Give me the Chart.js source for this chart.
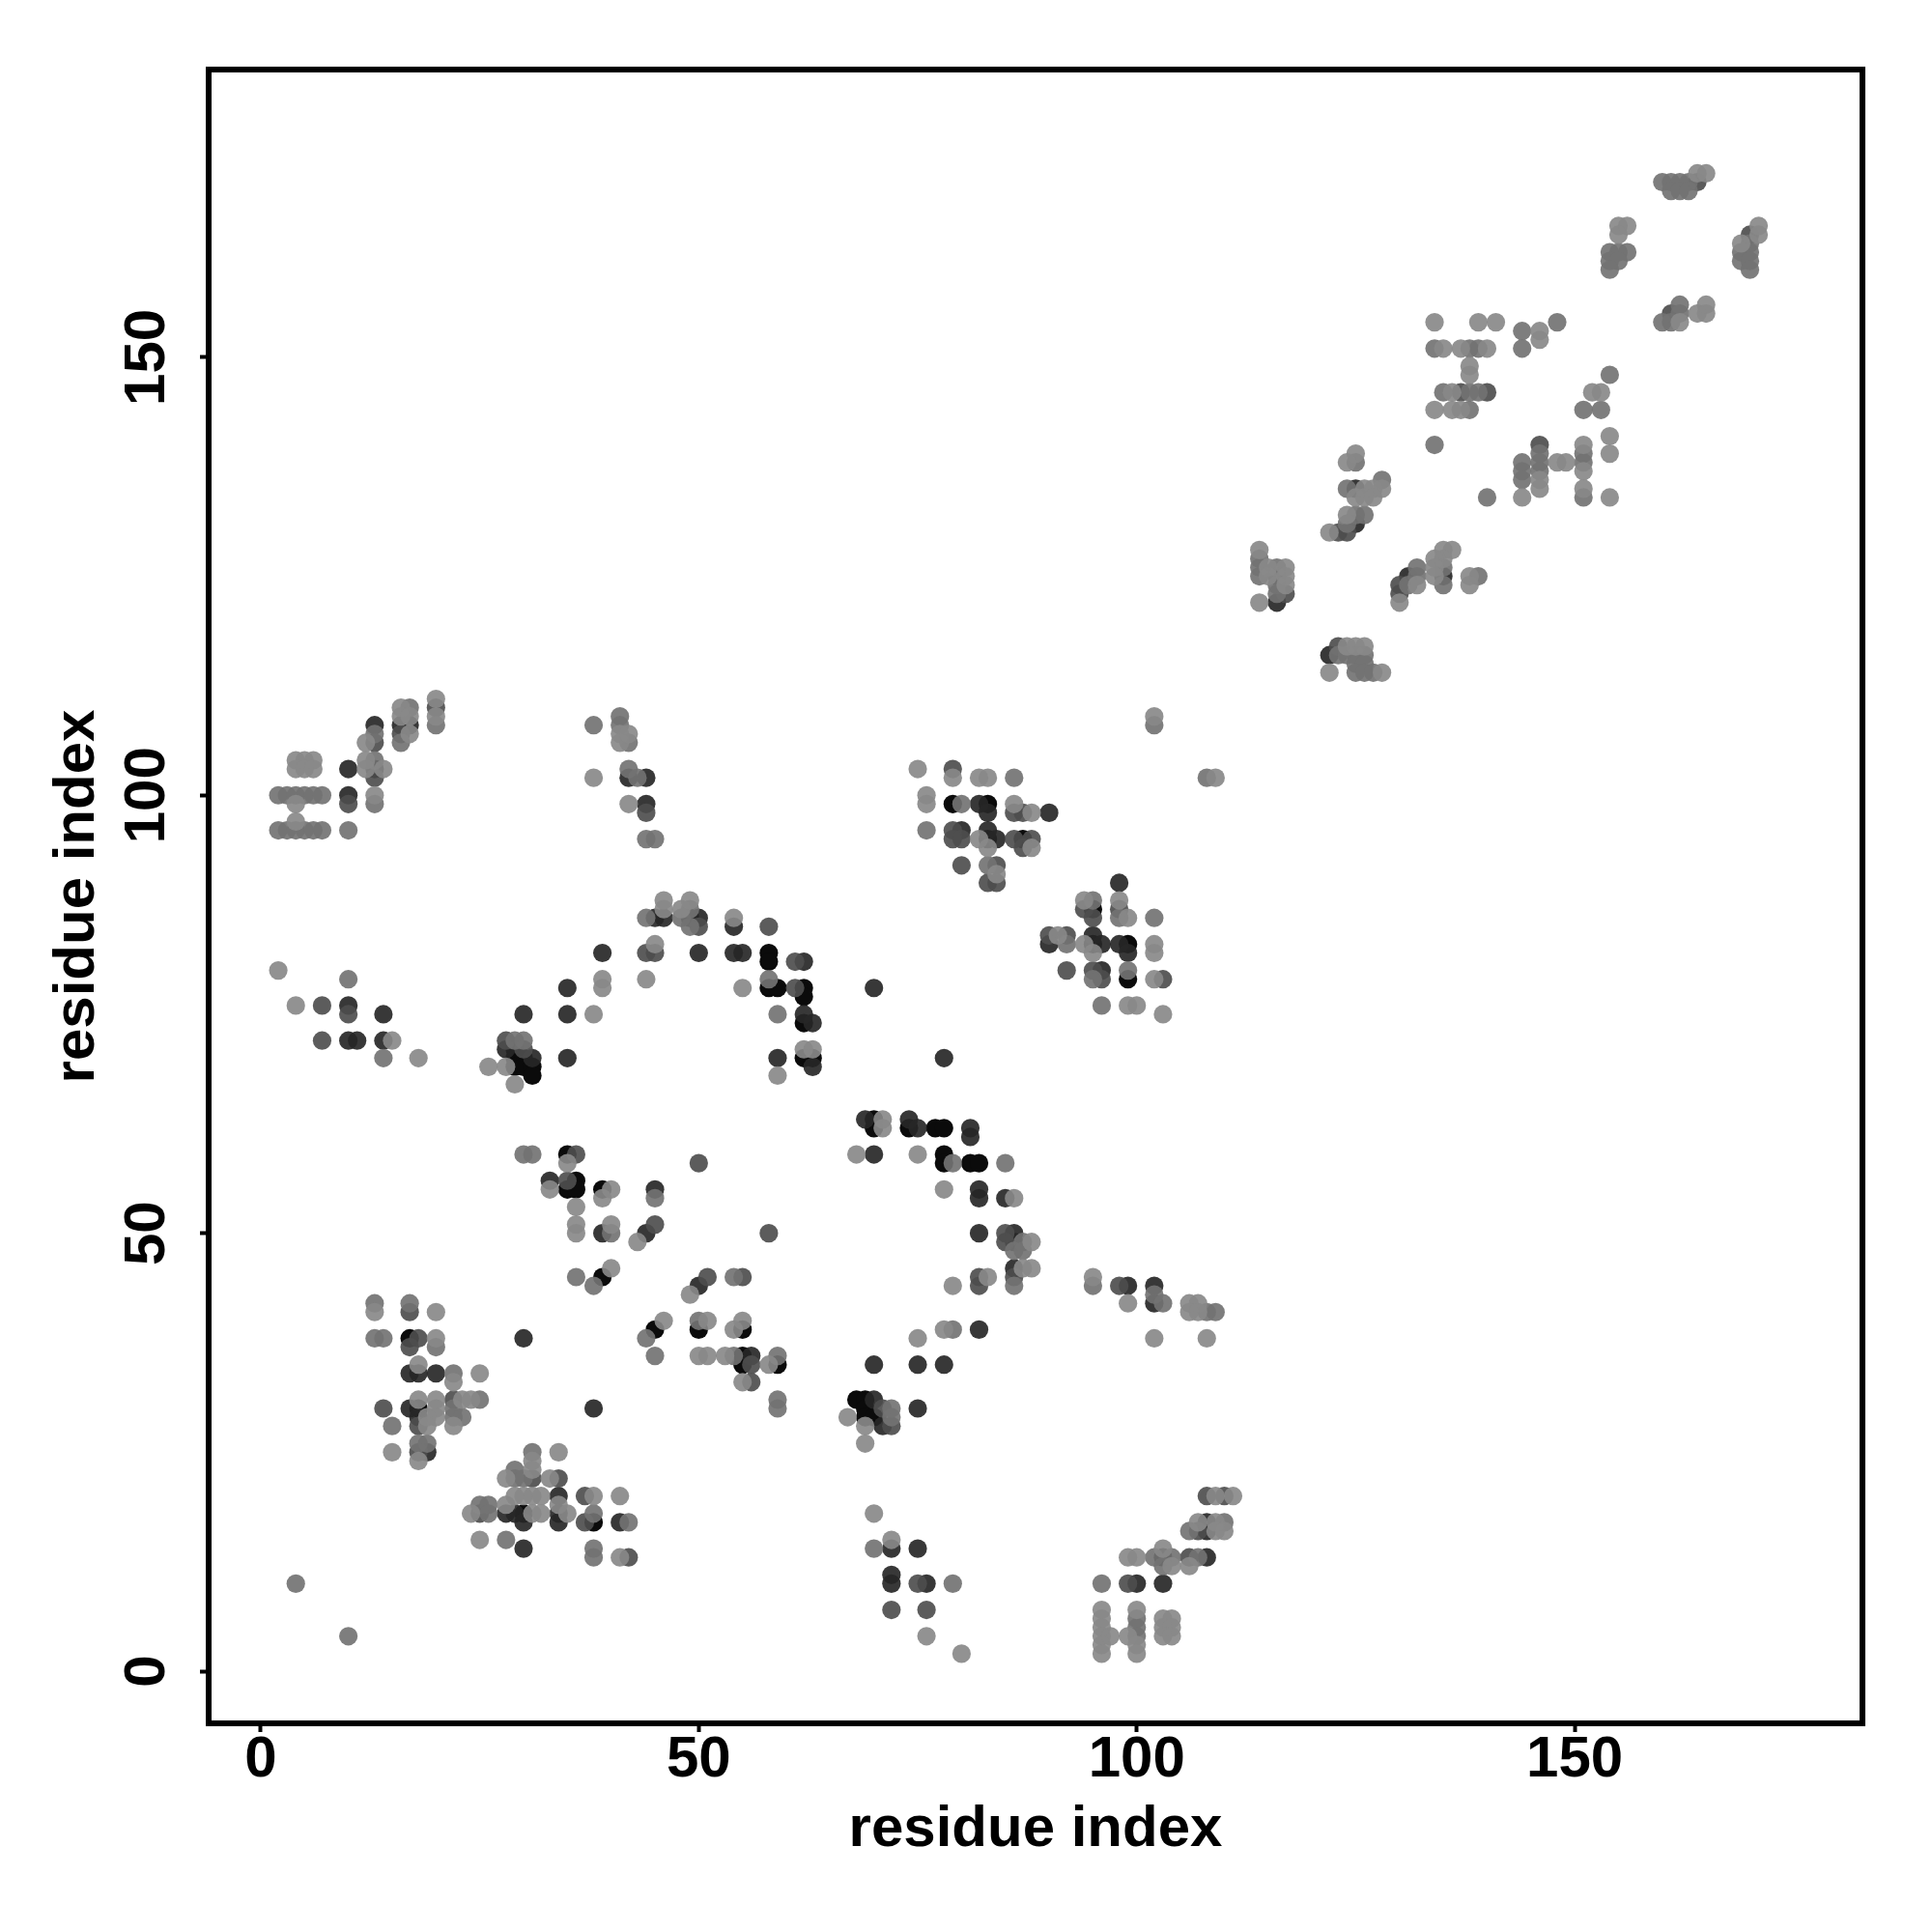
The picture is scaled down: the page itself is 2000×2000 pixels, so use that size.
<!DOCTYPE html>
<html>
<head>
<meta charset="utf-8">
<title>residue contacts</title>
<script src="https://cdn.jsdelivr.net/npm/chart.js@4"></script>
<style>
html, body { margin: 0; padding: 0; background: #fff; }
canvas { display: block; }
</style>
</head>
<body>
<canvas id="contactChart" width="2000" height="2000"></canvas>
<script>
// residue pairs [x, y], one list per grey level
const lightPoints = [[2,80],[4,76],[18,70],[15,72],[26,69],[28,69],[29,67],[38,75],[39,79],[39,78],[44,79],[45,83],[46,88],[46,87],[48,87],[49,88],[54,86],[55,78],[59,68],[62,71],[63,71],
  [4,97],[4,99],[4,104],[5,104],[6,104],[4,103],[5,103],[6,103],[13,100],[12,106],[12,104],[12,103],[14,103],[16,110],[16,109],[17,109],[17,107],[20,111],[20,109],[38,102],[41,107],[41,106],[42,107],[42,99],
  [75,103],[79,102],[82,102],[83,102],[76,100],[76,99],[86,99],[88,98],[82,95],[83,94],[88,94],[84,91],[94,88],[98,88],[99,86],[91,84],[94,83],[95,82],[102,83],[102,82],[102,79],[99,76],[100,76],[103,75],[109,102],[102,109],
  [13,41],[20,41],[20,38],[18,35],[22,33],[25,34],[18,31],[20,31],[20,30],[23,31],[24,31],[19,29],[19,28],[20,29],[22,28],[15,25],[18,24],[34,25],[31,24],[31,23],[28,22],[33,22],[29,20],[30,20],[31,20],[32,20],[34,19],[38,20],[41,20],[28,19],[24,18],[31,18],[32,18],[35,18],[25,15],[41,13],
  [40,46],[46,40],[49,43],[51,40],[50,36],[51,36],[53,36],[55,33],[54,39],[55,40],[58,35],[43,49],[36,53],[36,51],[36,50],[33,55],[35,58],[39,54],[40,55],[40,51],[68,59],[71,63],[71,62],[75,59],[78,55],[86,54],[88,49],[87,46],[88,46],[83,45],[79,44],[78,39],[75,38],[99,42],[106,42],[107,42],[106,41],[107,41],[102,38],[108,38],[95,45],[67,29],[69,28],[69,26],[70,18],[72,15],[76,4],[80,2],
  [96,7],[96,6],[96,5],[96,4],[96,3],[96,2],[97,4],[99,4],[100,7],[100,3],[100,2],[103,6],[104,6],[103,5],[104,5],[103,4],[104,4],[109,20],[111,20],[107,17],[109,17],[109,16],[110,16],[99,13],[100,13],[103,14],[104,12],[106,12],
  [125,139],[124,138],[126,135],[127,135],[128,135],[125,134],[126,134],[127,134],[124,132],[122,130],[114,128],[115,126],[115,125],[117,126],[117,125],[117,124],[114,122],[136,128],[135,128],[134,127],[135,127],[134,126],[134,125],[132,124],[130,122],[138,125],[138,124],[124,117],[125,117],[126,117],[122,114],[128,114],
  [134,154],[139,154],[141,154],[146,153],[146,152],[135,151],[137,151],[140,151],[138,149],[138,148],[136,146],[134,144],[136,144],[137,144],[152,146],[153,146],[154,141],[154,139],[144,134],[146,136],[146,135],[148,138],[149,138],[151,140],[151,137],[151,135],[154,134],[164,171],[165,171],[169,163],[171,165],[171,164],[162,154],[165,156],[164,155],[165,155],[155,165],[156,165],[155,164]];

const midPoints = [[14,70],[10,79],[44,86],[48,86],[49,85],[49,87],[29,72],[30,72],[58,79],[59,75],[10,96],[2,96],[3,96],[4,96],[5,96],[6,96],[7,96],[2,100],[3,100],[4,100],[5,100],[6,100],[7,100],[13,99],[13,107],[13,104],[16,106],[17,110],[20,108],[38,108],[41,109],[41,108],[42,106],[42,103],[43,102],[44,95],[45,95],
  [86,102],[76,96],[80,99],[83,92],[98,86],[95,79],[99,80],[96,76],[102,86],[92,83],[108,102],[102,108],[95,88],
  [17,42],[13,42],[13,38],[14,38],[20,37],[22,34],[25,31],[22,30],[22,29],[23,29],[15,28],[18,26],[19,26],[31,25],[29,23],[29,22],[30,22],[25,19],[26,19],[26,18],[38,18],[42,17],[28,15],[38,14],[38,13],[4,10],[10,4],
  [36,45],[38,44],[44,38],[45,36],[50,40],[54,45],[54,36],[59,36],[59,31],[59,30],[30,59],[31,59],[45,54],[40,50],[79,58],[85,58],[86,44],[87,49],[86,48],[87,48],[79,39],[95,44],[102,43],[103,42],[108,41],[109,41],[106,16],[72,30],[72,29],[70,14],[79,10],[96,10],[110,17],[102,13],[104,13],[103,12],[107,13],[100,6],[100,5],[100,4],
  [134,140],[140,134],[125,138],[128,136],[124,135],[125,132],[126,132],[124,131],[114,127],[114,126],[114,125],[116,126],[116,124],[116,123],[132,126],[135,126],[132,125],[131,124],[135,124],[139,125],[123,116],[124,116],[125,116],[126,116],[125,115],[126,115],[125,114],[126,114],[127,114],
  [148,154],[144,153],[144,151],[134,151],[138,151],[139,151],[135,146],[138,146],[139,146],[138,144],[154,148],[151,144],[153,144],[144,138],[144,137],[144,136],[146,139],[146,138],[146,137],[151,139],[151,138],[151,134],[160,170],[161,170],[162,170],[163,170],[161,169],[162,169],[163,169],[170,163],[169,162],[170,162],[169,161],[170,161],[170,160],[162,156],[162,155],[160,154],[161,154],
  [154,162],[155,162],[156,162],[154,161],[155,161],[154,160]];

const midDarkPoints = [[7,76],[10,75],[7,72],[44,82],[45,82],[50,85],[58,85],[61,81],[61,78],[28,72],[30,71],[10,99],[13,106],[13,102],[16,107],[20,110],[44,98],
  [79,103],[86,98],[87,98],[79,96],[79,95],[80,95],[80,92],[84,92],[83,90],[84,90],[86,95],[87,94],[88,95],[94,87],[95,86],[98,87],[90,84],[92,84],[92,80],[95,80],[96,79],[103,79],
  [17,41],[17,37],[18,38],[14,30],[22,31],[18,28],[18,25],[34,22],[31,22],[25,18],[37,20],[37,17],[42,13],[72,7],[76,7],[99,10],[107,16],[106,13],[110,20],[108,20],
  [51,45],[55,45],[50,58],[58,50],[45,51],[36,59],[35,56],[56,35],[56,33],[85,50],[85,49],[82,45],[82,44],[86,45],[98,44],[71,30],[72,28],[75,10],
  [123,130],[124,130],[117,123],[116,125],[130,124],[130,123],[123,117],[146,140],[137,146],[140,146],[164,170],[170,164],[161,155]];

const darkPoints = [[10,76],[14,75],[10,72],[11,72],[14,72],[30,75],[35,75],[35,78],[35,70],[39,82],[45,86],[46,86],[49,86],[50,86],[50,82],[54,85],[54,82],[55,82],[28,71],[31,70],[59,70],[62,81],[62,75],[63,74],[63,69],
  [10,100],[10,103],[13,108],[16,108],[17,108],[42,102],[44,102],[44,99],
  [82,99],[83,98],[90,98],[80,96],[83,96],[84,95],[98,90],[90,83],[95,84],[96,83],[98,83],[99,82],[96,80],[70,78],[78,70],
  [17,34],[18,34],[20,34],[17,30],[18,29],[28,18],[29,18],[34,20],[34,18],[34,17],[41,17],[30,17],[30,14],[30,38],[50,44],[38,30],[33,56],[45,55],[44,50],[69,63],[74,63],[75,62],[70,59],[81,62],[81,61],[82,54],[82,55],[85,54],[82,50],[86,50],[86,49],[86,46],[102,44],[102,42],[99,44],[82,39],[70,35],[75,35],[78,35],[70,31],[71,28],[75,30],[72,14],[75,14],[72,11],[72,10],[76,10],[100,10],[103,10],[108,17],[108,16],[108,13],[39,50],[19,25],[56,36],
  [125,135],[125,131],[116,122],[131,125],[135,125],[122,116]];

const blackPoints = [[29,71],[29,70],[30,70],[29,69],[30,69],[31,69],[31,68],[58,82],[58,81],[58,78],[59,78],[62,78],[62,77],[62,74],[62,70],[63,70],
  [13,103],[79,99],[83,99],[83,95],[87,95],[95,87],[95,83],[99,83],[99,79],
  [17,38],[18,30],[30,18],[38,17],[39,45],[45,39],[50,39],[55,39],[55,36],[55,35],[59,35],[35,59],[36,56],[35,55],[36,55],[39,55],[70,63],[70,62],[74,62],[77,62],[78,62],[78,59],[78,58],[81,58],[82,58],[68,31],[69,31],[69,30],[69,29],[70,29],[103,13]];

const tickValues = [0, 50, 100, 150];
const axisLabel = 'residue index';
const fontFamily = '"Liberation Sans", Arial, sans-serif';

function makeSeries(points, color) {
    return {
        data: points.map(function(p) { return { x: p[0], y: p[1] }; }),
        backgroundColor: color,
        borderWidth: 0,
        pointRadius: 9.6,
        pointHoverRadius: 9.6
    };
}

// the box round the plot
const framePlugin = {
    id: 'frame',
    afterDraw: function(chart) {
        const a = chart.chartArea;
        const ctx = chart.ctx;
        ctx.save();
        ctx.strokeStyle = '#000';
        ctx.lineWidth = 6;
        ctx.strokeRect(a.left, a.top, a.right - a.left, a.bottom - a.top);
        ctx.restore();
    }
};

function axisOptions(isY) {
    return {
        type: 'linear',
        min: -5.95,
        max: 182.85,
        afterBuildTicks: function(axis) {
            axis.ticks = tickValues.map(function(v) { return { value: v }; });
        },
        afterFit: function(axis) {
            if (isY) {
                axis.width = 216;
            } else {
                axis.height = 216;
            }
        },
        border: { display: false },
        grid: {
            drawOnChartArea: false,
            drawTicks: true,
            tickLength: 9,
            tickWidth: 4,
            tickColor: '#000'
        },
        ticks: {
            color: '#000',
            font: { family: fontFamily, size: 60, weight: 'bold' },
            padding: isY ? 3 : -7,
            minRotation: isY ? 90 : 0,
            maxRotation: isY ? 90 : 0,
            crossAlign: isY ? 'center' : 'near',
            autoSkip: false
        },
        title: {
            display: true,
            text: axisLabel,
            color: '#000',
            font: { family: fontFamily, size: 60, weight: 'bold' },
            // a bottom title counts from the lower edge, a left one from the left edge
            padding: isY ? { top: 44, bottom: 0 } : { top: 0, bottom: 70 }
        }
    };
}

new Chart(document.getElementById('contactChart'), {
    type: 'scatter',
    data: {
        // first dataset is drawn last, so the light points sit on top
        datasets: [
            makeSeries(lightPoints, 'rgba(137,137,137,0.92)'),
            makeSeries(midPoints, 'rgba(115,115,115,0.92)'),
            makeSeries(midDarkPoints, 'rgba(78,78,78,0.92)'),
            makeSeries(darkPoints, 'rgba(39,39,39,0.92)'),
            makeSeries(blackPoints, '#0b0b0b')
        ]
    },
    options: {
        responsive: false,
        animation: false,
        devicePixelRatio: 1,
        layout: { padding: { left: 0, right: 72, top: 72, bottom: 0 } },
        plugins: { legend: { display: false }, tooltip: { enabled: false } },
        scales: { x: axisOptions(false), y: axisOptions(true) }
    },
    plugins: [framePlugin]
});
</script>
</body>
</html>
